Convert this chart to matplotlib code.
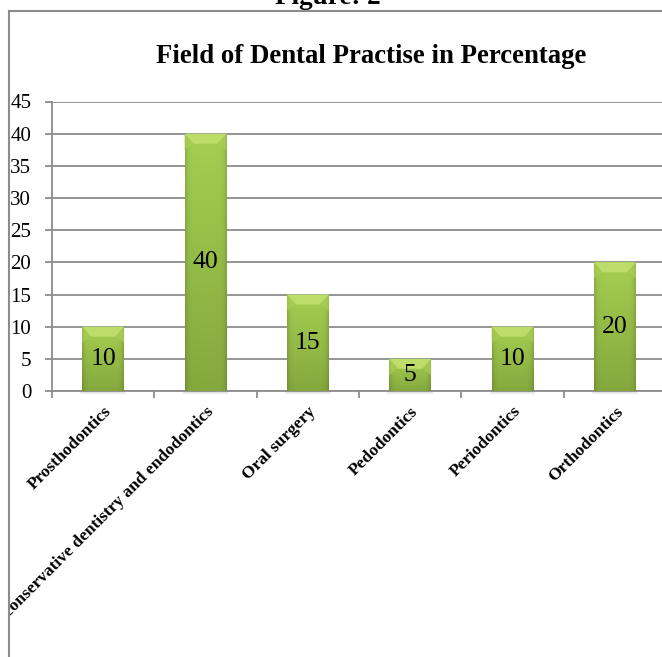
import matplotlib
matplotlib.use("Agg")
import matplotlib.pyplot as plt
import numpy as np
from matplotlib.patches import Polygon, Rectangle
from matplotlib.lines import Line2D

categories = ["Prosthodontics", "conservative dentistry and endodontics",
              "Oral surgery", "Pedodontics", "Periodontics", "Orthodontics"]
percent = [10, 40, 15, 5, 10, 20]
y_ticks = [0, 5, 10, 15, 20, 25, 30, 35, 40, 45]

W, H = 662, 657
GRID = "#8c8c8c"
SERIF = ["Liberation Serif", "DejaVu Serif"]

plt.rcParams["font.family"] = SERIF

fig = plt.figure(figsize=(W / 100, H / 100), dpi=100)
fig.patch.set_facecolor("white")

# axes: y=0 at 391px, y=45 at 101.5px; x from 52px, 102.3px per category
ax = fig.add_axes([52 / W, 1 - 391 / H, 614 / W, 289.5 / H])
ax.set_xlim(-0.5, len(categories) - 0.5)
ax.set_ylim(0, 45)

x = np.arange(len(categories))
bars = ax.bar(x, percent, width=0.41, color="#93bd42", zorder=3, linewidth=0)

# pixel -> data conversions for styling the bevel
px_x = 1 / 102.3
px_y = 45 / 289.5

# gradient body: lighter at top, darker at bottom, darker at the sides
ny, nx = 200, 60
t = np.linspace(0, 1, ny)[:, None]          # 0 bottom, 1 top
u = np.linspace(-1, 1, nx)[None, :]
top_c = np.array([0.65, 0.81, 0.32])
bot_c = np.array([0.52, 0.66, 0.24])
side = 1 - 0.14 * np.abs(u) ** 8

for b, v in zip(bars, percent):
    x0, w = b.get_x(), b.get_width()
    # soft shadow under the bar
    for k, a in enumerate([0.10, 0.06, 0.03]):
        sh = Rectangle((x0 - (k + 1) * px_x, -(k + 2) * px_y), w + 2 * (k + 1) * px_x,
                       (k + 2) * px_y, facecolor="#6a6a6a", alpha=a, linewidth=0,
                       zorder=2, clip_on=False)
        ax.add_patch(sh)
    img = (bot_c + (top_c - bot_c) * t[..., None]) * side[..., None]
    img = np.clip(img, 0, 1)
    im = ax.imshow(img, extent=(x0, x0 + w, 0, v), origin="lower",
                   aspect="auto", zorder=3, interpolation="bilinear")
    im.set_clip_path(b)
    # bevelled top cap
    ch = 10 * px_y
    ins = 9 * px_x
    cap = Polygon([(x0, v), (x0 + w, v), (x0 + w - ins, v - ch), (x0 + ins, v - ch)],
                  closed=True, facecolor="#bddd6a", edgecolor="none", zorder=4)
    ax.add_patch(cap)
    capl = Polygon([(x0, v), (x0 + ins, v - ch), (x0, v - ch * 1.6)],
                   closed=True, facecolor="#a9cd55", edgecolor="none", zorder=4, alpha=0.7)
    capr = Polygon([(x0 + w, v), (x0 + w - ins, v - ch), (x0 + w, v - ch * 1.6)],
                   closed=True, facecolor="#a9cd55", edgecolor="none", zorder=4, alpha=0.7)
    ax.add_patch(capl)
    ax.add_patch(capr)
    ax.text(b.get_x() + w / 2, v / 2, f"{v}", ha="center", va="center",
            fontsize=18.5, color="black", zorder=6)

ax.set_xlim(-0.5, len(categories) - 0.5)
ax.set_ylim(0, 45)

# gridlines and axes
ax.set_yticks(y_ticks)
ax.set_yticklabels([str(v) for v in y_ticks], fontsize=15)
ax.yaxis.grid(True, color=GRID, linewidth=1.3, zorder=1)
ax.set_axisbelow(True)
ax.tick_params(axis="y", length=5, width=1.3, color=GRID, pad=10)

ax.set_xticks(np.arange(-0.5, len(categories) + 0.5, 1))
ax.set_xticklabels([])
ax.set_xticks(x, minor=True)
ax.set_xticklabels(categories, minor=True, rotation=45, ha="right", rotation_mode="anchor",
                   fontsize=12.5, fontweight="bold")
ax.tick_params(axis="x", which="major", length=5, width=1.3, color=GRID, direction="out")
ax.tick_params(axis="x", which="minor", length=0, pad=9)

for s in ["top", "right"]:
    ax.spines[s].set_visible(False)
for s in ["left", "bottom"]:
    ax.spines[s].set_color(GRID)
    ax.spines[s].set_linewidth(1.3)

# titles
fig.text(371 / W, 1 - 63 / H, "Field of Dental Practise in Percentage", ha="center",
         va="baseline", fontsize=19.3, fontweight="bold")
fig.text(328 / W, 1 - 4.5 / H, "Figure: 2", ha="center", va="baseline",
         fontsize=19.5, fontweight="bold")

# clip the chart area at its left border and draw the frame
fig.add_artist(Rectangle((0, 0), 9 / W, 1, transform=fig.transFigure,
                         facecolor="white", edgecolor="none", zorder=10))
fig.add_artist(Line2D([9 / W, 9 / W], [0, 1 - 11 / H], transform=fig.transFigure,
                      color=GRID, linewidth=1.5, zorder=11))
fig.add_artist(Line2D([9 / W, 1], [1 - 11 / H, 1 - 11 / H], transform=fig.transFigure,
                      color=GRID, linewidth=1.5, zorder=11))

fig.savefig("out.png", dpi=100)
